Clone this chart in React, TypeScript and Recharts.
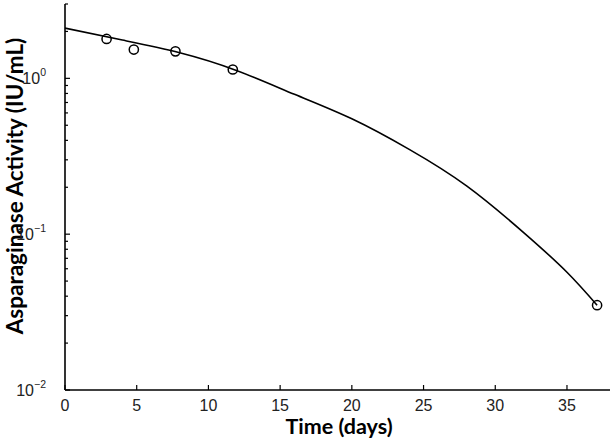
import { ComposedChart, Line, Scatter, XAxis, YAxis } from "recharts";

// fitted curve
const curveDays = [0, 4, 8, 12, 16, 20, 24, 28, 32, 35, 37.1];
const curveActivity = [2.1, 1.76, 1.46, 1.12, 0.79, 0.55, 0.35, 0.204, 0.102, 0.057, 0.035];

// measured samples
const sampleDays = [2.9, 4.8, 7.7, 11.7, 37.1];
const sampleActivity = [1.79, 1.53, 1.49, 1.14, 0.035];

const xTicks = [0, 5, 10, 15, 20, 25, 30, 35];
const yMajor = [0.01, 0.1, 1];
const yTicks = [
  0.01, 0.02, 0.03, 0.04, 0.05, 0.06, 0.07, 0.08, 0.09,
  0.1, 0.2, 0.3, 0.4, 0.5, 0.6, 0.7, 0.8, 0.9,
  1, 2, 3,
];
const yExponent: Record<number, string> = { 0.01: "\u22122", 0.1: "\u22121", 1: "0" };

const tickFont = "'Liberation Sans', Arial, sans-serif";
const titleFont = "Lato, 'Open Sans', sans-serif";

const curve = curveDays.map((day, i) => ({ day, activity: curveActivity[i] }));
const samples = sampleDays.map((day, i) => ({ day, activity: sampleActivity[i] }));

function XTick(props: any) {
  const { x, y, payload } = props;
  return (
    <g>
      <line x1={x} y1={y} x2={x} y2={y - 5} stroke="#000" strokeWidth={1.2} />
      <text x={x} y={y + 21} textAnchor="middle" fontSize={16} fontFamily={tickFont} fill="#222">
        {payload.value}
      </text>
    </g>
  );
}

function YTick(props: any) {
  const { x, y, payload } = props;
  const major = yMajor.includes(payload.value);
  return (
    <g>
      <line x1={x} y1={y} x2={x + (major ? 5 : 3)} y2={y} stroke="#000" strokeWidth={1.2} />
      {major && (
        <text x={x - 19} y={y + 6} textAnchor="end" fontSize={16} fontFamily={tickFont} fill="#222">
          10
          <tspan dy={-8} fontSize={10.5}>
            {yExponent[payload.value]}
          </tspan>
        </text>
      )}
    </g>
  );
}

export default function App() {
  return (
    <div style={{ position: "absolute", left: 0, top: 0, background: "#fff" }}>
      <ComposedChart
        width={615}
        height={441}
        margin={{ top: 4, right: 5, bottom: 0, left: 0 }}
      >
        <XAxis
          dataKey="day"
          type="number"
          domain={[0, 38]}
          ticks={xTicks}
          height={51}
          tickSize={0}
          tickMargin={0}
          tickLine={false}
          tick={<XTick />}
          axisLine={{ stroke: "#000", strokeWidth: 1.6 }}
          allowDataOverflow
        />
        <YAxis
          dataKey="activity"
          type="number"
          scale="log"
          domain={[0.01, 3]}
          ticks={yTicks}
          width={65}
          tickSize={0}
          tickMargin={0}
          tickLine={false}
          tick={<YTick />}
          interval={0}
          axisLine={{ stroke: "#000", strokeWidth: 1.6 }}
          allowDataOverflow
        />
        <Line
          data={curve}
          dataKey="activity"
          type="natural"
          stroke="#000"
          strokeWidth={1.6}
          dot={false}
          activeDot={false}
          isAnimationActive={false}
        />
        <Scatter
          data={samples}
          dataKey="activity"
          shape={(p: any) => (
            <circle cx={p.cx} cy={p.cy} r={4.6} fill="none" stroke="#000" strokeWidth={1.5} />
          )}
          isAnimationActive={false}
        />
        <text
          x={339}
          y={434}
          textAnchor="middle"
          fontSize={21.5}
          fontWeight="bold"
          fontFamily={titleFont}
          fill="#000"
        >
          Time (days)
        </text>
        <text
          x={0}
          y={0}
          transform="translate(23, 186) rotate(-90)"
          textAnchor="middle"
          fontSize={22.5}
          fontWeight="bold"
          fontFamily={titleFont}
          fill="#000"
        >
          Asparaginase Activity (IU/mL)
        </text>
      </ComposedChart>
    </div>
  );
}
